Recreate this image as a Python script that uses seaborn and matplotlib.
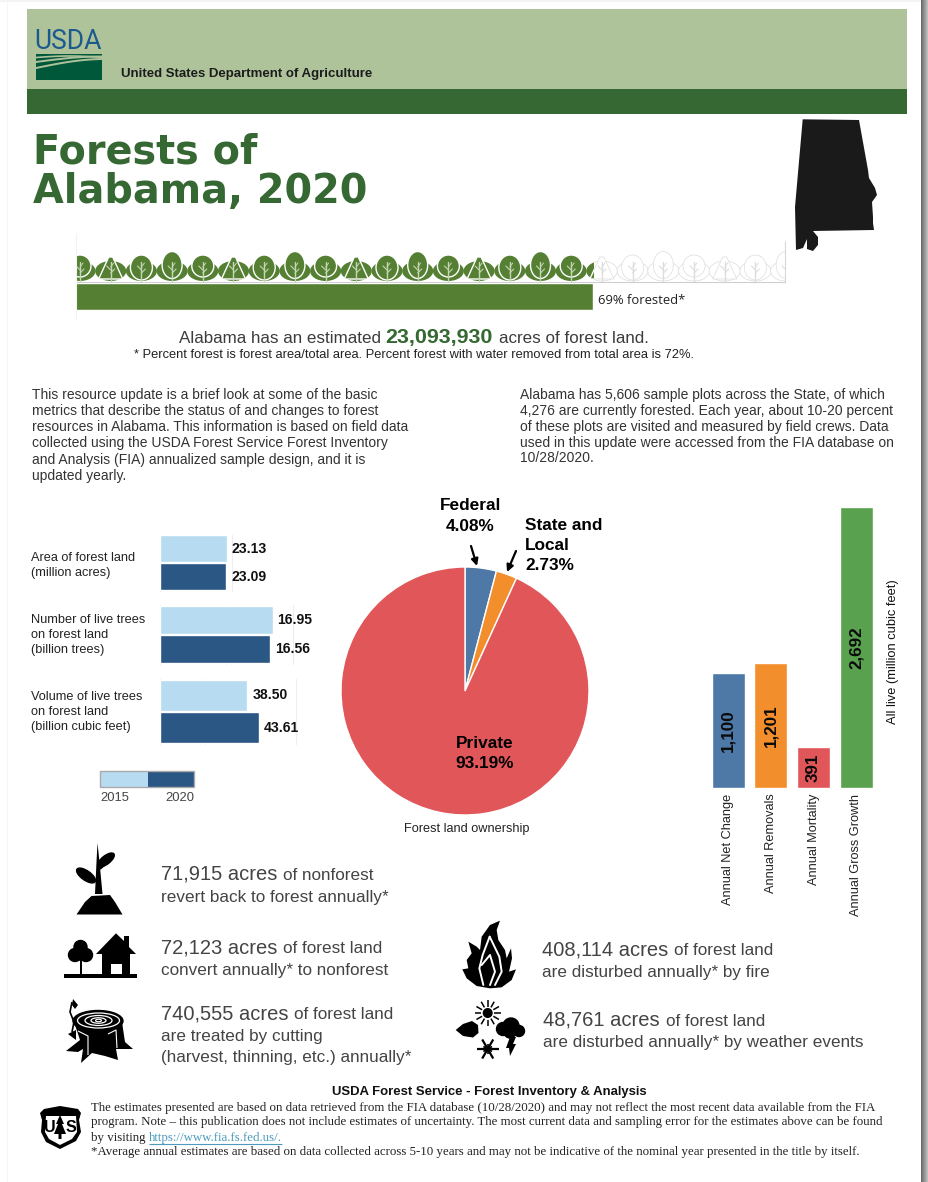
import numpy as np
import pandas as pd
import seaborn as sns
import matplotlib
matplotlib.use("Agg")
import matplotlib.pyplot as plt
from matplotlib.patches import Rectangle, Polygon, Ellipse, Circle, FancyArrowPatch

# ---------- data ----------
forest_label = ["Forested"]
forest_pct = [69]
metric_names = ["Area", "Trees", "Volume"]
values_2015 = [23.13, 16.95, 38.50]
values_2020 = [23.09, 16.56, 43.61]
years = ["2015", "2020"]
metric_xmax = [25, 20, 60]
metric_ticks = [[0, 25], [0, 10, 20], [0, 20, 60]]
metric_labels = [
    ["Area of forest land", "(million acres)"],
    ["Number of live trees", "on forest land", "(billion trees)"],
    ["Volume of live trees", "on forest land", "(billion cubic feet)"],
]
owner_names = ["Federal", "State and Local", "Private"]
owner_pct = [4.08, 2.73, 93.19]
flow_names = ["Annual Net Change", "Annual Removals", "Annual Mortality", "Annual Gross Growth"]
flow_values = [1100, 1201, 391, 2692]

C_BLUE, C_ORANGE, C_RED, C_GREEN = "#4E79A7", "#F28E2B", "#E15759", "#59A14F"
C_LIGHT, C_DARK = "#B7DCF1", "#2A5783"
HEAD_GREEN = "#356832"
GREY_TXT = "#444444"

W, H = 929, 1182
sns.set_theme(style="white")
plt.rcParams["font.family"] = ["Liberation Sans", "DejaVu Sans"]
fig = plt.figure(figsize=(W / 100, H / 100), dpi=100, facecolor="white")


def px_axes(x0, y0, x1, y1, **kw):
    a = fig.add_axes([x0 / W, 1 - y1 / H, (x1 - x0) / W, (y1 - y0) / H], **kw)
    a.patch.set_alpha(0)
    return a


ov = fig.add_axes([0, 0, 1, 1], zorder=5)
ov.set_xlim(0, W)
ov.set_ylim(H, 0)
ov.axis("off")
ov.patch.set_alpha(0)


def T(x, y, s, px, color="black", weight="normal", ha="left", va="center", family=None, **kw):
    fam = family if family else ["Liberation Sans", "DejaVu Sans"]
    return ov.text(x, y, s, fontsize=px * 0.72, color=color, fontweight=weight, ha=ha, va=va,
                   family=fam, **kw)


def R(x0, y0, x1, y1, color, **kw):
    ov.add_patch(Rectangle((x0, y0), x1 - x0, y1 - y0, facecolor=color, edgecolor="none", **kw))


def P(pts, color="black", **kw):
    p = Polygon(pts, closed=True, facecolor=color, edgecolor=kw.pop("ec", "none"), **kw)
    ov.add_patch(p)
    return p


def L(xs, ys, color="black", lw=1, **kw):
    ov.plot(xs, ys, color=color, lw=lw, solid_capstyle=kw.pop("cap", "butt"), **kw)


# ---------- page frame ----------
for i, c in enumerate(np.linspace(0.42, 0.80, 8)):
    R(921 + i, 0, 922 + i, H, str(c))
R(7.5, 0, 8.5, H, "#f6f6f6")
R(0, 0, W - 8, 1.5, "#f4f4f4")

# ---------- header ----------
R(27, 9, 907, 88.5, "#AFC39B")
R(27, 88.5, 907, 113.5, HEAD_GREEN)
T(34.5, 41.5, "USDA", 26.5, color="#1B5A8C", family="Roboto")
R(36, 54, 102, 79.5, "#00583A")
xs = np.linspace(36, 102, 30)
ov.plot(xs, 57.5 - 1.5 * np.sin((xs - 36) / 66 * 3.1), color="#AFC39B", lw=1.2)
ov.plot(xs, 62 - 5.5 * np.sin((xs - 36) / 66 * 1.6), color="#AFC39B", lw=1.4)
ov.plot(xs, 68 - 9 * np.sin((xs - 36) / 66 * 1.5), color="#AFC39B", lw=1.4)
T(121, 73.5, "United States Department of Agriculture", 13.2, color="#1c1c1c", weight="bold")

T(33, 163, "Forests of", 39.7, color=HEAD_GREEN, weight="bold", va="baseline", family="DejaVu Sans")
T(33, 203, "Alabama, 2020", 39.7, color=HEAD_GREEN, weight="bold", va="baseline", family="DejaVu Sans")

# Alabama silhouette
P([(802.7, 119.3), (859, 120), (868, 170), (869, 178), (875, 188), (877, 195), (872, 202),
   (873, 217), (873, 223), (874, 230), (813, 231), (818, 237), (818, 245), (813, 251),
   (807, 249), (807, 239), (803, 248), (796, 250), (795, 207)], color="#1a1a1a")

# ---------- tree strip ----------
clip_green = Rectangle((76, 240), 518, 42, transform=ov.transData)
clip_white = Rectangle((594, 240), 191, 42, transform=ov.transData)
TG = "#558033"


def tree(cx, kind, fc, ec, clip):
    base = 281
    items = [Ellipse((cx, 271), 31, 20, facecolor=fc, edgecolor=ec if ec != "white" else "none", lw=0.5)]
    lw = 1.0 if ec == "white" else 0.5
    if kind == 0:
        items.append(Circle((cx, 266), 11, facecolor=fc, edgecolor=ec, lw=lw))
    elif kind == 1:
        items.append(Polygon([(cx - 12, 279), (cx - 2, 257), (cx + 2, 257), (cx + 12, 279)],
                             closed=True, facecolor=fc, edgecolor=ec, lw=lw))
    elif kind == 2:
        items.append(Ellipse((cx, 267.5), 22, 25, facecolor=fc, edgecolor=ec, lw=lw))
    else:
        items.append(Ellipse((cx, 265), 20, 27, facecolor=fc, edgecolor=ec, lw=lw))
    for it in items:
        ov.add_patch(it)
        it.set_clip_path(clip)
    stem = "#c5d6b4" if ec == "white" else "#dddddd"
    for xa, ya, xb, yb, w in [(cx, base, cx, 262, 1.0), (cx, 273, cx + 4, 269, 0.8),
                              (cx, 270, cx - 4, 266, 0.8), (cx, 267, cx + 3, 263, 0.7)]:
        ln, = ov.plot([xa, xb], [ya, yb], color=stem, lw=w)
        ln.set_clip_path(clip)


for i in range(24):
    cx = 80 + 30.7 * i
    if cx < 620:
        tree(cx, i % 4, TG, "white", clip_green)
    if cx > 575:
        tree(cx, i % 4, "white", "#dcdcdc", clip_white)
L([76, 785], [282, 282], color="#cfcfcf", lw=0.8)
L([785, 785], [241, 283], color="#d8d8d8", lw=0.8)
L([76, 76], [233, 320], color="#f3f3f3", lw=0.8)

ax_f = px_axes(75.5, 283, 784.5, 310)
sns.barplot(data=pd.DataFrame({"label": forest_label, "pct": forest_pct}), y="label", x="pct",
            color=TG, saturation=1, width=1, orient="h", ax=ax_f)
ax_f.set_xlim(0, 69 * 709 / 518)
ax_f.set_ylim(0.5, -0.5)
ax_f.axis("off")
T(598, 300.5, "69% forested*", 13, color="#222222", family="Open Sans")

# ---------- headline ----------
r = fig.canvas.get_renderer()


def run(x, y, parts):
    for s, px, col, wt in parts:
        t = T(x, y, s, px, color=col, weight=wt, va="baseline")
        bb = t.get_window_extent(r)
        x = x + bb.width + px * 0.27


run(179, 343, [("Alabama has an estimated", 17, "#3c3c3c", "normal"),
               ("23,093,930", 21.5, HEAD_GREEN, "bold"),
               ("acres of forest land.", 17, "#3c3c3c", "normal")])
T(414, 355.5, "* Percent forest is forest area/total area. Percent forest with water removed from total area is 72%.",
  12.9, color="#222222", ha="center")

left_par = ["This resource update is a brief look at some of the basic",
            "metrics that describe the status of and changes to forest",
            "resources in Alabama. This information is based on field data",
            "collected using the USDA Forest Service Forest Inventory",
            "and Analysis (FIA) annualized sample design, and it is",
            "updated yearly."]
right_par = ["Alabama has 5,606 sample plots across the State, of which",
             "4,276 are currently forested. Each year, about 10-20 percent",
             "of these plots are visited and measured by field crews. Data",
             "used in this update were accessed from the FIA database on",
             "10/28/2020."]
for i, s in enumerate(left_par):
    T(32, 394.5 + i * 16.3, s, 13.9, color="#333333")
for i, s in enumerate(right_par):
    T(520, 394.5 + i * 16, s, 13.9, color="#333333")

# ---------- metric bars (each metric on its own scale) ----------
boxes = [(534.5, 590.5), (605, 664), (679, 744)]
scales = [2.9, 6.67, 2.283]
label_y0 = [558, 620, 697]
for k in range(3):
    y0, y1 = boxes[k]
    x1 = 159.5 + metric_xmax[k] * scales[k]
    a = px_axes(159.5, y0, x1, y1)
    df = pd.DataFrame({"metric": [metric_names[k]] * 2,
                       "value": [values_2015[k], values_2020[k]],
                       "year": years})
    sns.barplot(data=df, y="metric", x="value", hue="year", hue_order=years,
                palette=[C_LIGHT, C_DARK], saturation=1, width=1, gap=0.04, orient="h",
                legend=False, ax=a)
    a.set_xlim(0, metric_xmax[k])
    a.set_ylim(0.5, -0.5)
    a.set_xlabel("")
    a.set_ylabel("")
    a.set_yticks([])
    a.set_xticks([])
    for tk in metric_ticks[k]:
        a.axvline(tk, color="#eeeeee", lw=0.8, zorder=0, clip_on=False)
    sns.despine(ax=a, left=True, bottom=True)
    for c in a.containers:
        a.bar_label(c, fmt="%.2f", padding=3.5, fontsize=14 * 0.72, fontweight="bold",
                    color="#111111")
    for j, s in enumerate(metric_labels[k]):
        T(31, label_y0[k] + j * 15, s, 12.8, color="#222222")

R(100.5, 771, 148, 787, C_LIGHT)
R(148, 771, 194.5, 787, C_DARK)
ov.add_patch(Rectangle((100.5, 771), 94, 16, fill=False, edgecolor="#aaaaaa", lw=1))
T(115, 798, "2015", 13, color=GREY_TXT, ha="center")
T(180, 798, "2020", 13, color=GREY_TXT, ha="center")

# ---------- ownership pie ----------
ax_p = px_axes(341, 567, 589, 815)
ax_p.pie(owner_pct, colors=[C_BLUE, C_ORANGE, C_RED], startangle=90, counterclock=False,
         radius=1, wedgeprops={"edgecolor": "white", "linewidth": 1})
ax_p.set_xlim(-1, 1)
ax_p.set_ylim(-1, 1)
T(470.5, 506, "Federal", 17.3, weight="bold", ha="center")
T(470.5, 526.5, "4.08%", 17.3, weight="bold", ha="center")
T(525, 525.5, "State and", 17.3, weight="bold")
T(525, 545.5, "Local", 17.3, weight="bold")
T(525, 566, "2.73%", 17.3, weight="bold")
T(485, 743.5, "Private", 17.3, weight="bold", ha="center")
T(485, 763.5, "93.19%", 17.3, weight="bold", ha="center")
T(467, 829, "Forest land ownership", 12.8, color="#222222", ha="center")
for a0, a1 in [((471, 546), (477, 566)), ((516, 551), (507, 572))]:
    ov.add_patch(FancyArrowPatch(a0, a1, arrowstyle="-|>", mutation_scale=10, color="black",
                                 lw=1.6, shrinkA=0, shrinkB=0))

# ---------- flow bars ----------
ax_b = px_axes(706.7, 507, 877.7, 788)
sns.barplot(data=pd.DataFrame({"name": flow_names, "value": flow_values}), x="name", y="value",
            hue="name", palette=[C_BLUE, C_ORANGE, C_RED, C_GREEN], saturation=1, width=0.77,
            legend=False, ax=ax_b)
ax_b.set_xlim(-0.5, 3.5)
ax_b.set_ylim(0, 2692)
ax_b.set_yticks([])
ax_b.set_xlabel("")
ax_b.set_ylabel("All live (million cubic feet)", fontsize=12.9 * 0.72, color="#111111", rotation=90)
ax_b.yaxis.set_label_position("right")
ax_b.yaxis.set_label_coords(1.055, 0.487)
ax_b.tick_params(axis="x", length=0, pad=4, labelsize=12.8 * 0.72, labelcolor="#222222", rotation=90)
for lab in ax_b.get_xticklabels():
    lab.set_x(lab.get_position()[0])
sns.despine(ax=ax_b, left=True, bottom=True)
for c in ax_b.containers:
    ax_b.bar_label(c, labels=[f"{v:,.0f}" if v > 0 else "" for v in c.datavalues],
                   label_type="center", rotation=90, fontsize=17 * 0.72, fontweight="bold",
                   color="#0a0a0a")

# ---------- statistics ----------
def stat(x, y, big, small, lines, step=21.5):
    t = T(x, y, big, 20.2, color=GREY_TXT, va="baseline")
    bb = t.get_window_extent(r)
    T(x + bb.width + 6, y, small, 17.1, color=GREY_TXT, va="baseline")
    yy = y
    for s in lines:
        yy += step
        T(x, yy, s, 17.1, color=GREY_TXT, va="baseline")


stat(161, 880, "71,915 acres", "of nonforest", ["revert back to forest annually*"], 22)
stat(161, 953, "72,123 acres", "of forest land", ["convert annually* to nonforest"], 21.5)
stat(161, 1019, "740,555 acres", "of forest land", ["are treated by cutting", "(harvest, thinning, etc.) annually*"], 21.5)
stat(542, 955, "408,114 acres", "of forest land", ["are disturbed annually* by fire"], 21.5)
stat(543, 1026, "48,761 acres", "of forest land", ["are disturbed annually* by weather events"], 21.5)

# sprout icon
P([(76.5, 914.5), (85, 902), (91.5, 896), (110, 895), (115, 902), (122.5, 914.5)])
P([(97.5, 843), (99.5, 862), (102.5, 894), (95, 894), (96.5, 862)])
ov.add_patch(Ellipse((86, 875.5), 22, 9.5, angle=35, color="black"))
ov.add_patch(Ellipse((106, 860), 20, 8.5, angle=-38, color="black"))
L([100, 113], [869, 856], lw=1.5)

# tree and house icon
R(64, 974, 137, 977.7, "black")
R(80, 955, 82.5, 975, "black")
for c in [(80.5, 947, 6.5), (75, 955, 6.5), (86, 955, 6.5), (81, 953, 7)]:
    ov.add_patch(Circle(c[:2], c[2], color="black"))
P([(116, 933.3), (96, 954), (102, 954), (102, 974), (130, 974), (130, 954), (136, 954), (129, 947), (129, 936), (124, 936), (124, 941)])
R(111, 964.3, 121.7, 974, "white")

# stump icon
P([(74, 1022), (80, 1040), (66, 1051), (78, 1052), (83, 1049), (81, 1063), (92, 1053), (105, 1056),
   (118, 1060), (116, 1049), (133, 1049), (125, 1042), (122, 1022)])
ov.add_patch(Ellipse((98, 1021), 50, 21, color="black"))
for w_, h_, lw_ in [(42, 15, 0.9), (27, 10, 0.9), (15, 5.5, 0.9), (6, 2.4, 0.8)]:
    ov.add_patch(Ellipse((98.5, 1020.5), w_, h_, fill=False, edgecolor="white", lw=lw_))
L([78, 88, 88], [1031, 1036, 1055], color="white", lw=0.8)
L([108, 116, 117], [1034, 1030, 1048], color="white", lw=0.8)
L([72, 70, 74, 72], [1002, 1012, 1022, 1032], lw=1.2)
P([(73, 999), (78, 1005), (75, 1009), (72, 1005)])
P([(68, 1034), (76, 1030), (76, 1040)])

# fire icon
fire_x = [180, 170, 175, 195, 200, 213, 216, 207, 228, 215, 185, 150, 110, 80, 67, 85, 80, 95, 85, 110, 120, 125, 150]
fire_y = [62, 90, 120, 150, 175, 145, 175, 215, 208, 240, 262, 265, 258, 235, 208, 205, 180, 160, 125, 140, 150, 110, 75]
P([(440 + a / 3, 900 + b / 3) for a, b in zip(fire_x, fire_y)])
flame = [(149, 110), (128, 165), (118, 205), (130, 255)]
flame2 = [(149, 110), (178, 170), (185, 215), (165, 255)]
flame3 = [(125, 195), (150, 165), (165, 215), (150, 255)]
for fl in (flame, flame2, flame3):
    ov.plot([440 + a / 3 for a, _ in fl], [900 + b / 3 for _, b in fl], color="white", lw=1.4)

# weather icon
ov.add_patch(Circle((487.7, 1013), 4.3, color="black"))
for ang in np.arange(0, 360, 30):
    c_, s_ = np.cos(np.radians(ang)), np.sin(np.radians(ang))
    L([487.7 + 6.5 * c_, 487.7 + 13 * c_], [1013 + 6.5 * s_, 1013 + 13 * s_], lw=1.1)
P([(455.7, 1030), (463, 1024), (472, 1021), (478, 1025), (478.5, 1033), (473, 1037.5), (463, 1036)])
for c in [(503, 1029, 6.5), (511, 1026, 8), (519, 1031, 5.5), (510, 1032, 6)]:
    ov.add_patch(Circle(c[:2], c[2], color="black"))
P([(510, 1037), (516, 1037), (513, 1044), (516, 1044), (510, 1056), (509, 1048), (506, 1048)])
for ang in (0, 60, 120):
    c_, s_ = np.cos(np.radians(ang)), np.sin(np.radians(ang))
    L([487.7 - 11 * c_, 487.7 + 11 * c_], [1049 - 11 * s_, 1049 + 11 * s_], lw=1.6)
for ang in (30, 90, 150):
    c_, s_ = np.cos(np.radians(ang)), np.sin(np.radians(ang))
    L([487.7 - 5 * c_, 487.7 + 5 * c_], [1049 - 5 * s_, 1049 + 5 * s_], lw=1.2)

# ---------- footer ----------
T(489.5, 1091.5, "USDA Forest Service - Forest Inventory & Analysis", 13.1, weight="bold", ha="center", color="#111111")
SERIF = ["Liberation Serif", "DejaVu Serif"]
foot = ["The estimates presented are based on data retrieved from the FIA database (10/28/2020) and may not reflect the most recent data available from the FIA",
        "program. Note \u2013 this publication does not include estimates of uncertainty. The most current data and sampling error for the estimates above can be found",
        "by visiting",
        "*Average annual estimates are based on data collected across 5-10 years and may not be indicative of the nominal year presented in the title by itself."]
fy = [1107.5, 1122.5, 1138, 1152.5]
for s, y in zip(foot, fy):
    T(91, y, s, 12.85, color="#222222", family=SERIF)
T(149, 1138, "https://www.fia.fs.fed.us/.", 12.85, color="#4a9bbd", family=SERIF)
L([149, 282.5], [1143.5, 1143.5], color="#4a9bbd", lw=0.8)

# shield
shield = [(44, 1109), (60, 1106), (78, 1109), (81, 1113), (79, 1120), (81, 1132), (76, 1141), (60, 1149),
          (46, 1142), (41, 1132), (42, 1120), (40, 1113)]
P(shield, color="black")
P([(46, 1116), (76, 1116), (77, 1132), (72, 1139), (60, 1145), (49, 1139), (45, 1132)], color="white")
T(50, 1127, "U", 16, weight="bold", ha="center")
T(71, 1127, "S", 16, weight="bold", ha="center")
P([(60, 1115), (64, 1124), (62, 1124), (66, 1134), (61.5, 1134), (61.5, 1139), (58.5, 1139), (58.5, 1134), (54, 1134), (58, 1124), (56, 1124)])

fig.savefig("out.png", dpi=100, facecolor="white")
